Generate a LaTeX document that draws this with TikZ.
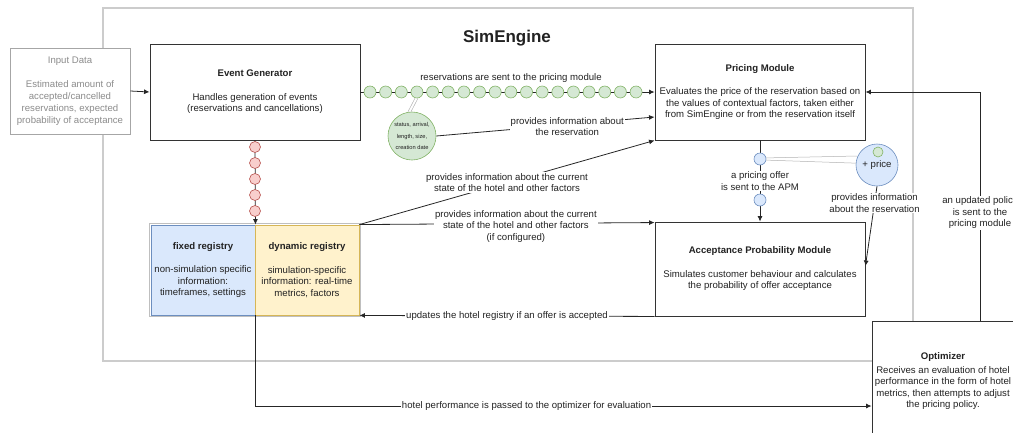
\documentclass[tikz,border=0pt]{standalone}
\usepackage{fontspec}
\setmainfont{Liberation Sans}
\usetikzlibrary{arrows.meta}
\definecolor{gfill}{HTML}{D5E8D4}\definecolor{gdraw}{HTML}{82B366}
\definecolor{bfill}{HTML}{DAE8FC}\definecolor{bdraw}{HTML}{6C8EBF}
\definecolor{rfill}{HTML}{F8CECC}\definecolor{rdraw}{HTML}{B85450}
\definecolor{yfill}{HTML}{FFF2CC}\definecolor{ydraw}{HTML}{D6B656}
\definecolor{txt}{HTML}{222222}
\newcommand\bfnt{\fontsize{9.6}{11.5}\selectfont}
\tikzset{
  box/.style={draw=black!80, fill=white, line width=0.9pt, align=center, inner sep=0pt, font=\bfnt, text=txt},
  lbl/.style={fill=white, inner sep=1pt, align=center, font=\bfnt, text=txt},
  gdot/.style={circle, draw=gdraw, fill=gfill, minimum size=12pt, inner sep=0pt, line width=0.6pt},
  rdot/.style={circle, draw=rdraw, fill=rfill, minimum size=11pt, inner sep=0pt, line width=0.6pt},
  bdot/.style={circle, draw=bdraw, fill=bfill, minimum size=12pt, inner sep=0pt, line width=0.6pt},
  conn/.style={draw=black!85, line width=0.8pt},
  arr/.style={conn, -{Latex[length=5.5pt,width=5pt]}},
  callout/.style={draw=gray!60, line width=0.5pt},
}
\begin{document}
\begin{tikzpicture}[x=1pt,y=-1pt]
\useasboundingbox (0,0) rectangle (1013,432);
% container
\node[draw=black!20, line width=1.2pt, minimum width=810pt, minimum height=353pt, inner sep=0pt] (sim) at (508,184.5) {};
\node[font=\bfseries\fontsize{17}{19}\selectfont, text=txt] (simt) at (507,38) {SimEngine};
% input
\node[box, draw=black!35, text=black!45, minimum width=120pt, minimum height=86pt, font=\fontsize{9.6}{12}\selectfont] (inp) at (70,91)
  {Input Data\\[12pt]Estimated amount of\\accepted/cancelled\\reservations, expected\\probability of acceptance};
% main boxes
\node[box, minimum width=210pt, minimum height=96pt] (eg) at (255,92)
  {\textbf{Event Generator}\\[12pt]Handles generation of events\\(reservations and cancellations)};
\node[box, minimum width=210pt, minimum height=96pt] (pm) at (760,92)
  {\textbf{Pricing Module}\\[12pt]Evaluates the price of the reservation based on\\the values of contextual factors, taken either\\from SimEngine or from the reservation itself};
\node[box, minimum width=210pt, minimum height=94pt] (apm) at (760,269)
  {\textbf{Acceptance Probability Module}\\[12pt]Simulates customer behaviour and calculates\\the probability of offer acceptance};
% registries
\draw[draw=black!25, line width=1.2pt] (149.5,223.5) rectangle (360.5,316.5);
\node[box, draw=bdraw, fill=bfill, minimum width=104pt, minimum height=90pt] (fixed) at (203,270)
  {\textbf{fixed registry}\\[12pt]non-simulation specific\\information:\\timeframes, settings};
\node[box, draw=ydraw, fill=yfill, minimum width=104pt, minimum height=90pt] (dyn) at (307,270)
  {\textbf{dynamic registry}\\[12pt]simulation-specific\\information: real-time\\metrics, factors};
% input -> event generator
\draw[arr] (inp.east) -- (eg.west);
% reservations chain
\draw[arr] (eg.east) -- (pm.west);
\foreach \i in {1,...,18} \node[gdot] (g\i) at ({370+(\i-1)*15.65},92) {};
\node[lbl, fill=none] (lres) at (511,78) {reservations are sent to the pricing module};
% reservation attributes
\node[circle, draw=gdraw, fill=gfill, minimum size=48pt, inner sep=0pt, align=center, line width=0.6pt,
  font=\fontsize{5.7}{11.5}\selectfont, text=txt] (gc) at (412,136) {status, arrival,\\length, size,\\creation date};
\draw[callout] ([xshift=-2pt]g4.south) -- ([xshift=-4pt]gc.north);
\draw[callout] ([xshift=1pt]g4.south) -- ([xshift=-1pt]gc.north);
\draw[arr] (gc.east) -- node[lbl, pos=0.6, yshift=-2pt] (l1) {provides information about\\the reservation} ([yshift=-25pt]pm.west);
% red chain
\draw[arr] (eg.south) -- (fixed.north east);
\foreach \i/\y in {1/147,2/163,3/179,4/195,5/211} \node[rdot] (r\i) at (255,\y) {};
% registry -> pricing / apm
\draw[arr] (dyn.north east) -- node[lbl, pos=0.5] (l2) {provides information about the current\\state of the hotel and other factors} (pm.south west);
\draw[arr] (dyn.north east) -- node[lbl, pos=0.53, yshift=-3pt] (l3) {provides information about the current\\state of the hotel and other factors\\(if configured)} ([yshift=-1pt]apm.north west);
\draw[arr] (apm.south west) -- node[lbl] (l4) {updates the hotel registry if an offer is accepted} (dyn.south east);
% pricing -> apm
\draw[arr] (pm.south) -- node[lbl, pos=0.5] (l5) {a pricing offer\\is sent to the APM} (apm.north);
\node[bdot] (b1) at (760,159) {};
\node[bdot] (b2) at (760,200) {};
\node[circle, draw=bdraw, fill=bfill, minimum size=42pt, inner sep=0pt, line width=0.6pt, font=\bfnt, text=txt] (bc) at (877,165) {+ price};
\node[circle, draw=gdraw, fill=gfill, minimum size=10pt, inner sep=0pt, line width=0.6pt] (gs) at (878,152) {};
\draw[callout] (b1.10) -- (bc.155);
\draw[callout] (b1.-10) -- (bc.175);
\draw[arr] (bc.south) -- node[lbl, pos=0.21] (l6) {provides information\\about the reservation} ([yshift=3pt]apm.east);
% optimizer
\node[box, minimum width=142pt, minimum height=120pt] (opt) at (943,381)
  {\textbf{Optimizer}\\[2.5pt]Receives an evaluation of hotel\\performance in the form of hotel\\metrics, then attempts to adjust\\the pricing policy.};
\draw[arr] ([xshift=37pt]opt.north) |- node[lbl, pos=0.236] (l7) {an updated policy\\is sent to the\\pricing module} (pm.east);
\draw[arr] (fixed.south east) |- node[lbl, pos=0.72] (l8) {hotel performance is passed to the optimizer for evaluation} ([yshift=-25pt]opt.west);
\end{tikzpicture}
\end{document}
